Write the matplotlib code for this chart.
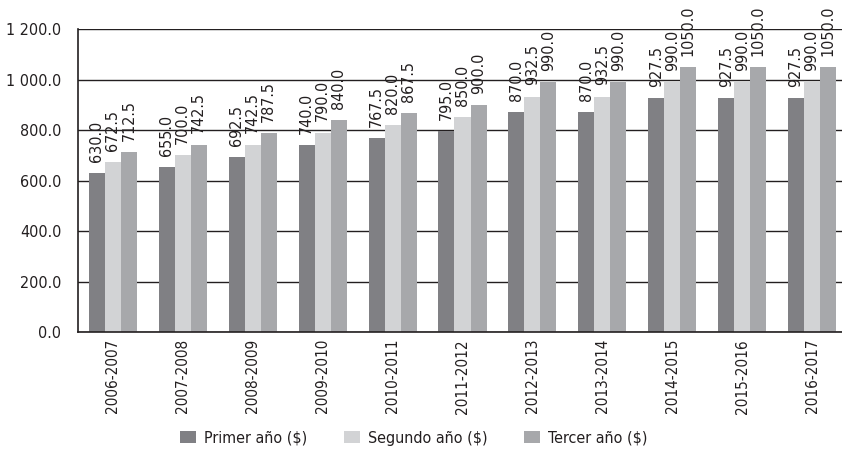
import numpy as np
import matplotlib
matplotlib.use("Agg")
import matplotlib.pyplot as plt
from matplotlib.ticker import FuncFormatter

plt.rcParams["font.family"] = ["DejaVu Sans"]
plt.rcParams["font.stretch"] = "condensed"

# data
periodos = ["2006-2007", "2007-2008", "2008-2009", "2009-2010", "2010-2011", "2011-2012",
            "2012-2013", "2013-2014", "2014-2015", "2015-2016", "2016-2017"]
primer = [630.0, 655.0, 692.5, 740.0, 767.5, 795.0, 870.0, 870.0, 927.5, 927.5, 927.5]
segundo = [672.5, 700.0, 742.5, 790.0, 820.0, 850.0, 932.5, 932.5, 990.0, 990.0, 990.0]
tercer = [712.5, 742.5, 787.5, 840.0, 867.5, 900.0, 990.0, 990.0, 1050.0, 1050.0, 1050.0]
series = ["Primer año ($)", "Segundo año ($)", "Tercer año ($)"]
colors = ["#808084", "#d2d3d5", "#a7a8ab"]
txt = "#231f20"

fig = plt.figure(figsize=(8.42, 4.61), dpi=100)
ax = fig.add_axes([78 / 842, 129 / 461, 769 / 842, 303 / 461])

x = np.arange(len(periodos))
w = 0.229
for i, (vals, lab, c) in enumerate(zip([primer, segundo, tercer], series, colors)):
    pos = x + (i - 1) * w
    ax.bar(pos, vals, width=w, color=c, label=lab, zorder=3)
    for px, v in zip(pos, vals):
        ax.annotate(f"{v:.1f}", (px, v), xytext=(0, 8), textcoords="offset points",
                    rotation=90, ha="center", va="bottom", fontsize=11.5,
                    color=txt, annotation_clip=False)

ax.set_xlim(-0.5, len(periodos) - 0.5)
ax.set_ylim(0, 1200)
ax.set_yticks(np.arange(0, 1201, 200))
ax.yaxis.set_major_formatter(FuncFormatter(lambda v, p: f"{v:,.1f}".replace(",", " ")))
ax.set_xticks(x)
ax.set_xticklabels(periodos, rotation=90)
ax.tick_params(axis="y", length=0, pad=12, labelsize=11.5, labelcolor=txt)
ax.tick_params(axis="x", length=0, pad=5, labelsize=11, labelcolor=txt)
ax.grid(axis="y", color=txt, linewidth=1.0, zorder=0)
for s in ["top", "right"]:
    ax.spines[s].set_visible(False)
for s in ["left", "bottom"]:
    ax.spines[s].set_color(txt)
    ax.spines[s].set_linewidth(1.2)
    ax.spines[s].set_zorder(4)

ax.legend(loc="center", bbox_to_anchor=(414 / 842, 23 / 461), bbox_transform=fig.transFigure,
          ncol=3, frameon=False, fontsize=11.5, handlelength=1.0, handleheight=0.8,
          handletextpad=0.5, columnspacing=2.3, labelcolor=txt)

fig.savefig("out.png", dpi=100)
